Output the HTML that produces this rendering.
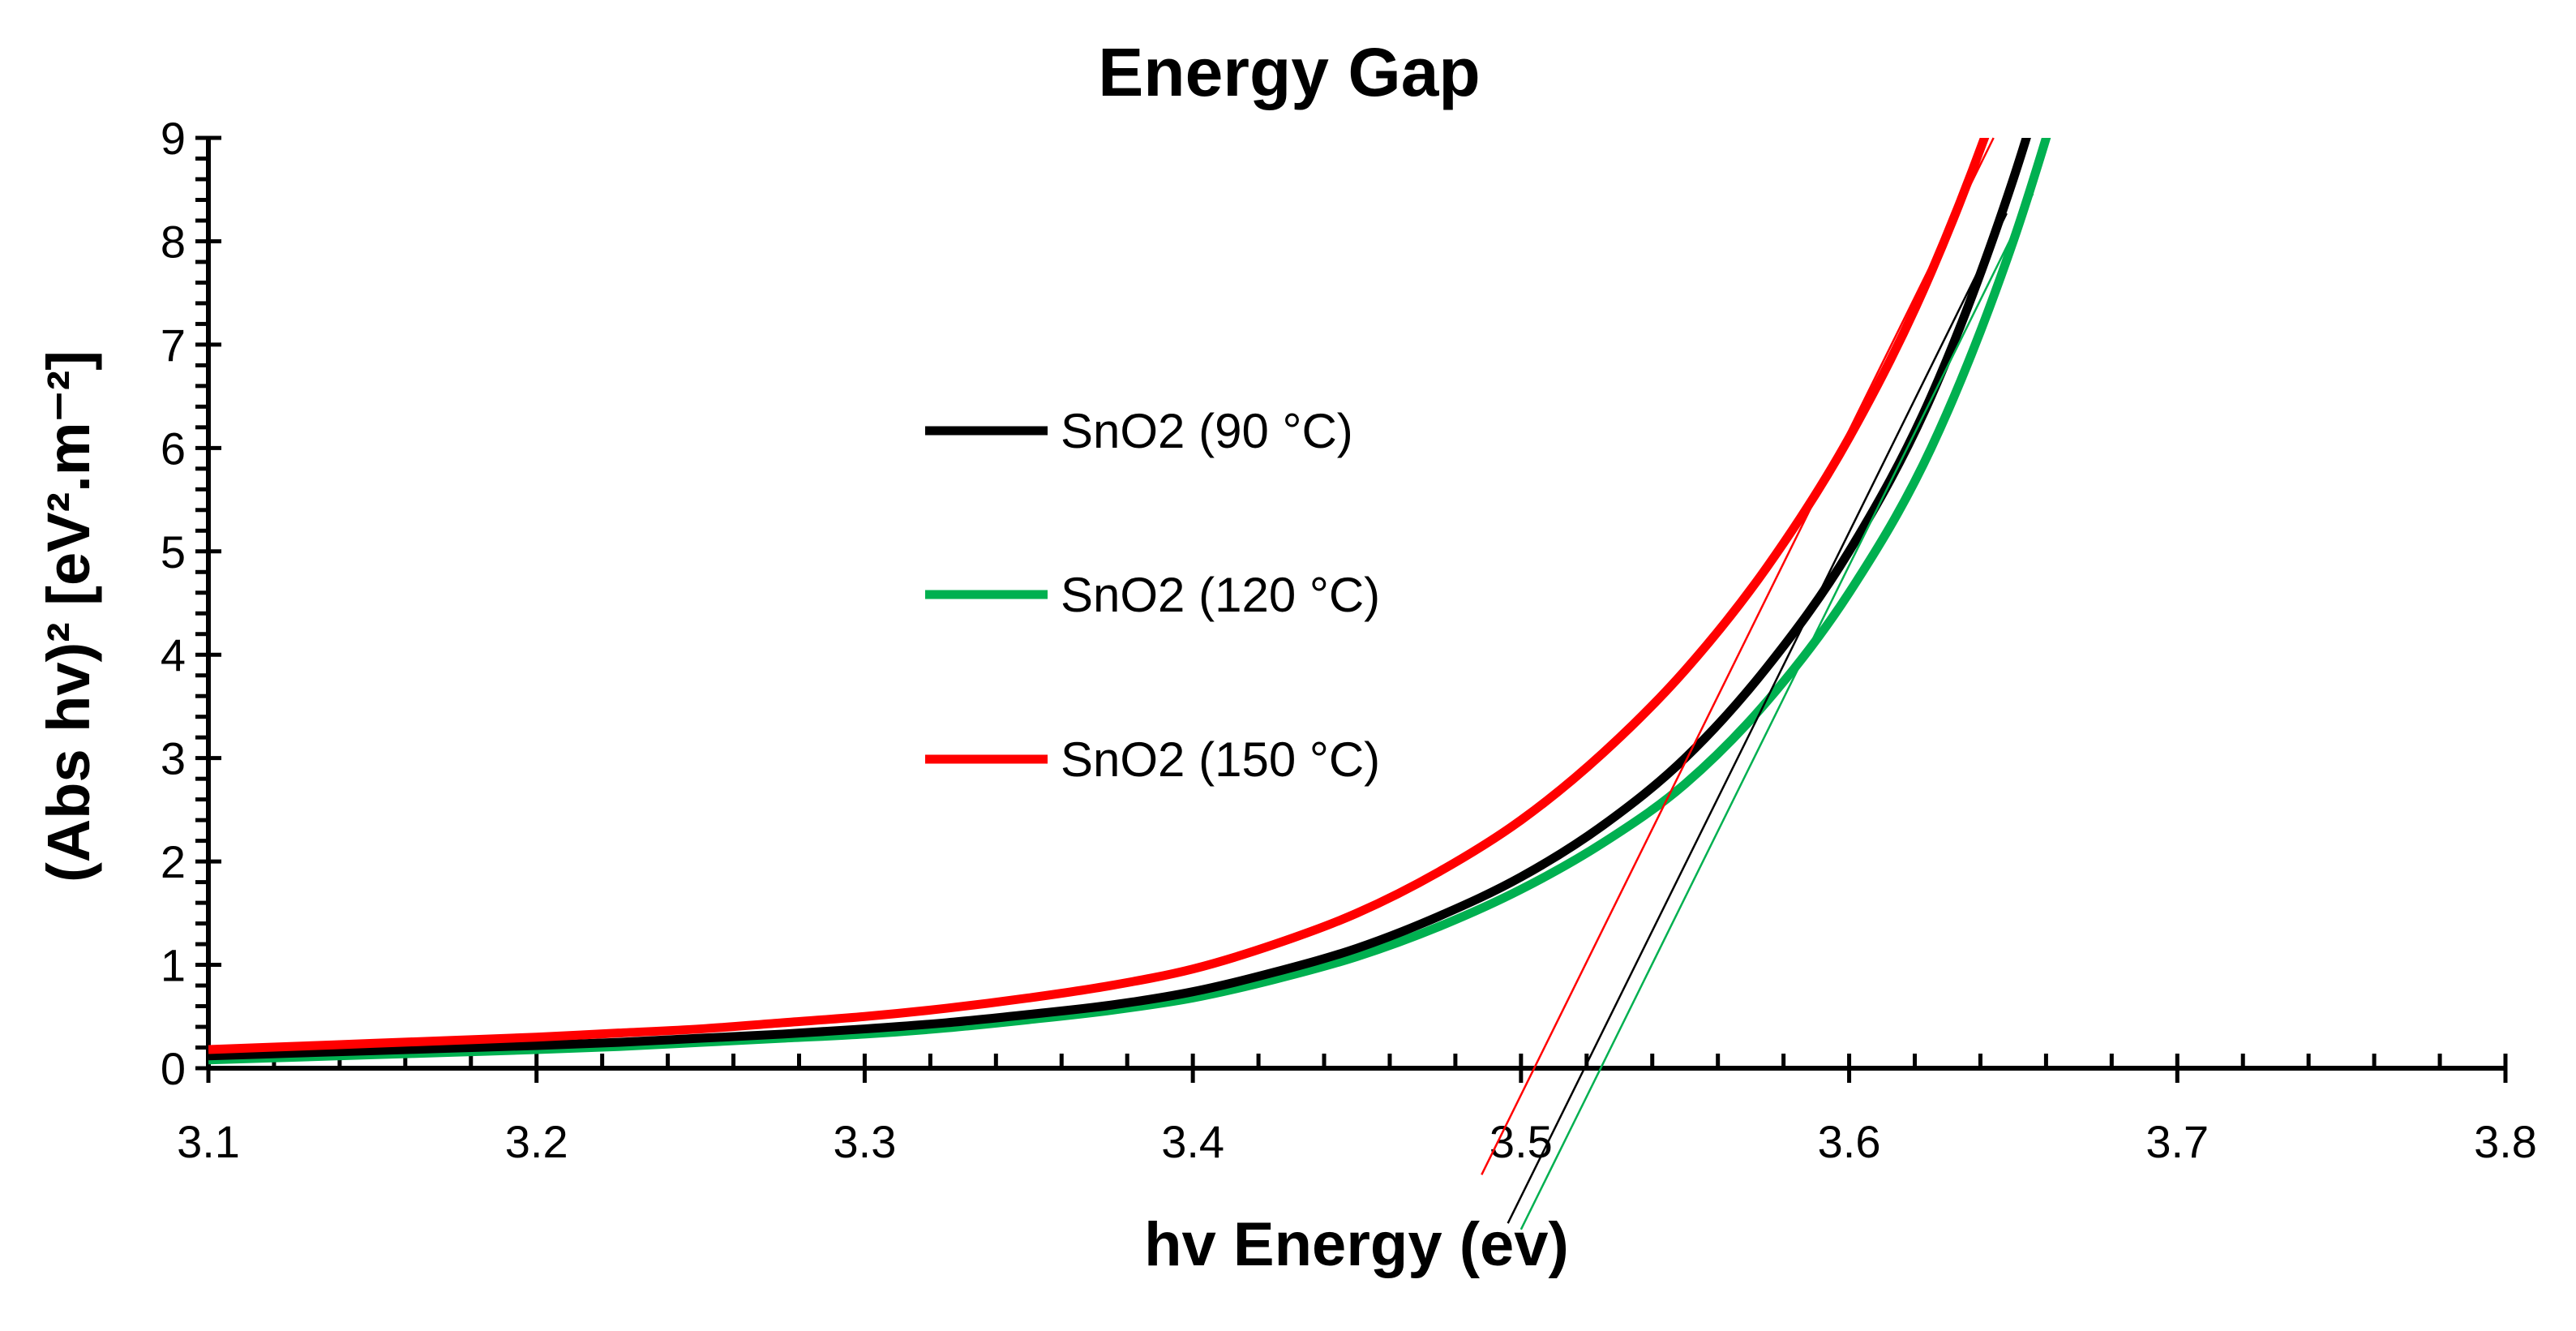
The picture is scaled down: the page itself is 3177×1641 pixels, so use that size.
<!DOCTYPE html>
<html><head><meta charset="utf-8"><style>
html,body{margin:0;padding:0;background:#fff;}
svg{display:block;font-family:"Liberation Sans",sans-serif;}
</style></head><body>
<svg id="chart" width="3177" height="1641" viewBox="0 0 3177 1641">
<defs><clipPath id="plotclip"><rect x="257" y="170" width="2840" height="1147"/></clipPath></defs>
<text x="1590" y="118" text-anchor="middle" font-size="84" font-weight="bold">Energy Gap</text>
<g id="axes"></g>
<g id="series" clip-path="url(#plotclip)"></g>
<g id="tangents"></g>
<text x="1673" y="1560" text-anchor="middle" font-size="76" font-weight="bold">hv Energy (ev)</text>
<text transform="translate(110,760) rotate(-90)" text-anchor="middle" font-size="74" font-weight="bold">(Abs hv)² [eV².m⁻²]</text>
<g id="legend"></g>
</svg>
<script>
const xs = [3.1, 3.125, 3.15, 3.175, 3.2, 3.225, 3.25, 3.275, 3.3, 3.325, 3.35, 3.375, 3.4, 3.425, 3.45, 3.475, 3.5, 3.525, 3.55, 3.575, 3.6, 3.625, 3.65, 3.675];
const black90 = [0.12, 0.145, 0.17, 0.195, 0.22, 0.25, 0.29, 0.33, 0.38, 0.44, 0.52, 0.61, 0.74, 0.93, 1.16, 1.47, 1.85, 2.35, 3.0, 3.88, 5.0, 6.5, 8.6, 11.3];
const green120 = [0.08, 0.105, 0.13, 0.155, 0.18, 0.21, 0.25, 0.29, 0.33, 0.39, 0.47, 0.56, 0.68, 0.86, 1.08, 1.37, 1.73, 2.18, 2.75, 3.55, 4.6, 6.0, 8.0, 10.6];
const red150 = [0.18, 0.21, 0.24, 0.27, 0.3, 0.34, 0.38, 0.44, 0.5, 0.58, 0.68, 0.8, 0.96, 1.2, 1.5, 1.9, 2.4, 3.05, 3.85, 4.85, 6.1, 7.7, 9.8, 12.5];
const seriesNames = ["SnO2 (90 °C)", "SnO2 (120 °C)", "SnO2 (150 °C)"];
const seriesColors = ["#000000", "#00b050", "#ff0000"];
const tangentRed = [[3.488, -1.03], [3.644, 9.0]];
const tangentBlack = [[3.496, -1.5], [3.648, 8.27]];
const tangentGreen = [[3.5, -1.56], [3.656, 8.46]];
const xTicks = [3.1, 3.2, 3.3, 3.4, 3.5, 3.6, 3.7, 3.8];
const yTicks = [0, 1, 2, 3, 4, 5, 6, 7, 8, 9];

const NS = "http://www.w3.org/2000/svg";
const X0 = 257, X1 = 3090, Y0 = 1317, Y1 = 170;
function sx(v){ return X0 + (v - 3.1) / 0.7 * (X1 - X0); }
function sy(v){ return Y0 - v / 9 * (Y0 - Y1); }
function mk(tag, attrs, parent){ const e = document.createElementNS(NS, tag); for (const k in attrs) e.setAttribute(k, attrs[k]); parent.appendChild(e); return e; }

const axes = document.getElementById('axes');
let a = mk('line', {x1:X0, y1:Y0, x2:X1, y2:Y0, stroke:'#000', 'stroke-width':6}, axes);


a = mk('line', {x1:X0, y1:Y0, x2:X0, y2:Y1, stroke:'#000', 'stroke-width':6}, axes);


for (let i = 0; i <= 35; i++) {
  const v = 3.1 + i * 0.02, px = sx(v);
  const major = i % 5 === 0;
  mk('line', {x1:px, y1: major ? Y0 + 18 : Y0, x2:px, y2:Y0 - 18, stroke:'#000', 'stroke-width':5}, axes);
}
for (let i = 0; i <= 45; i++) {
  const v = i * 0.2, py = sy(v);
  const major = i % 5 === 0;
  mk('line', {x1:X0 - 16, y1:py, x2: major ? X0 + 16 : X0, y2:py, stroke:'#000', 'stroke-width':5}, axes);
}
xTicks.forEach(v => {
  const t = mk('text', {x:sx(v), y:Y0 + 110, 'text-anchor':'middle', 'font-size':56}, axes);
  t.textContent = v.toFixed(1);
  
  
});
yTicks.forEach(v => {
  const t = mk('text', {x:X0 - 28, y:sy(v) + 20, 'text-anchor':'end', 'font-size':56}, axes);
  t.textContent = v;
  
  
});

function smoothPath(xv, yv){
  const p = xv.map((x, i) => [sx(x), sy(yv[i])]);
  let d = 'M' + p[0][0] + ',' + p[0][1];
  for (let i = 0; i < p.length - 1; i++) {
    const p0 = p[Math.max(0, i - 1)], p1 = p[i], p2 = p[i + 1], p3 = p[Math.min(p.length - 1, i + 2)];
    const c1 = [p1[0] + (p2[0] - p0[0]) / 6, p1[1] + (p2[1] - p0[1]) / 6];
    const c2 = [p2[0] - (p3[0] - p1[0]) / 6, p2[1] - (p3[1] - p1[1]) / 6];
    d += ' C' + c1 + ' ' + c2 + ' ' + p2;
  }
  return d;
}
const sg = document.getElementById('series');
const data = [green120, black90, red150];
const cols = ["#00b050", "#000000", "#ff0000"];
const nm = ["series-120c", "series-90c", "series-150c"];
data.forEach((ys, i) => {
  const p = mk('path', {d:smoothPath(xs, ys), fill:'none', stroke:cols[i], 'stroke-width':11, 'stroke-linejoin':'round'}, sg);
  
  
});
const tg = document.getElementById('tangents');
[[tangentRed, '#ff0000', 'tangent-150c'], [tangentBlack, '#000000', 'tangent-90c'], [tangentGreen, '#00b050', 'tangent-120c']].forEach(([t, c, n]) => {
  const l = mk('line', {x1:sx(t[0][0]), y1:sy(t[0][1]), x2:sx(t[1][0]), y2:sy(t[1][1]), stroke:c, 'stroke-width':2.5}, tg);
  
  
});
const lg = document.getElementById('legend');
const legendY = [531, 733, 936];
seriesNames.forEach((n, i) => {
  const l = mk('line', {x1:1141, y1:legendY[i], x2:1292, y2:legendY[i], stroke:seriesColors[i], 'stroke-width':11}, lg);
  
  
  const t = mk('text', {x:1308, y:legendY[i] + 21, 'font-size':60}, lg);
  t.textContent = n;
  
  
});
</script>
</body></html>
